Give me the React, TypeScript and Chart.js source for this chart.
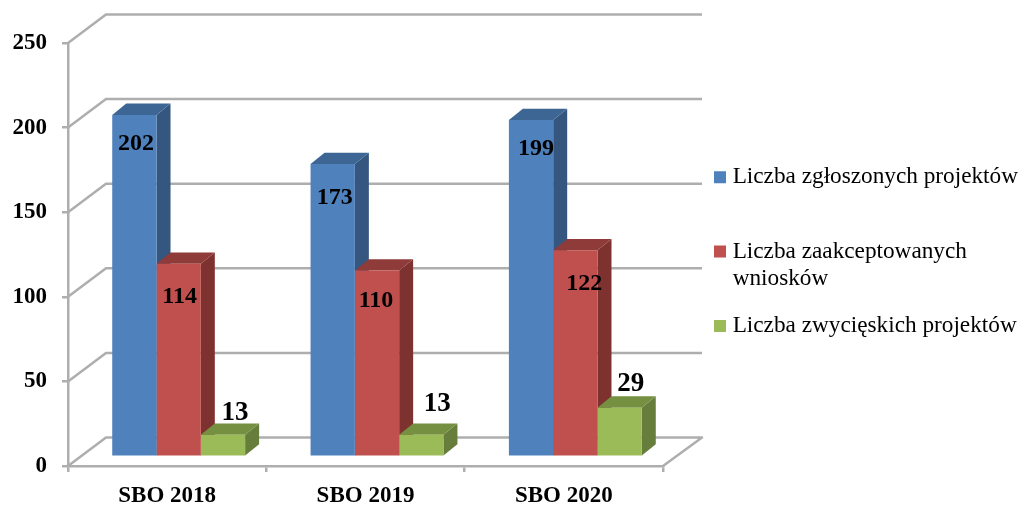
import React, { useEffect, useRef } from "react";
import { Chart, registerables } from "chart.js";

Chart.register(...registerables);

const categories = ["SBO 2018", "SBO 2019", "SBO 2020"];
const submitted = [202, 173, 199];
const accepted = [114, 110, 122];
const winners = [13, 13, 29];
const seriesNames = [
  "Liczba zgłoszonych projektów",
  "Liczba zaakceptowanych wniosków",
  "Liczba zwycięskich projektów",
];
const legendLines = [
  ["Liczba zgłoszonych projektów", ""],
  ["Liczba zaakceptowanych", "wniosków"],
  ["Liczba zwycięskich projektów", ""],
];

const FRONT = ["#4f81bd", "#c0504d", "#9bbb59"];
const SIDE = ["#34567f", "#7d3230", "#677d3b"];
const TOP = ["#3d6695", "#8f3b39", "#759040"];
const GRID = "#aeaeae";
const SERIF = "'Liberation Serif', serif";

// Projection of the pseudo-3D box
const BAR_SHIFT = { x: 11.5, y: -9.3 };
const BAR_DEPTH = { x: 14, y: -11.3 };
const WALL = { x: 38, y: -28.5 };

// Data label placement relative to the top centre of each bar's front face
const labelNudges = [
  [[1.6, 29], [2, 34], [5, 29]],
  [[1, 33], [-1, 30], [9, 34]],
  [[12, -22], [16, -31], [11, -24]],
];
const labelSizes = [24, 24, 27];

const frame3d = {
  id: "frame3d",
  beforeDatasetsDraw(chart: any) {
    const { ctx, chartArea: a, scales } = chart;
    const y = scales.y;
    ctx.save();
    ctx.strokeStyle = GRID;
    ctx.lineWidth = 2.5;
    ctx.lineJoin = "round";
    y.ticks.forEach((t: any) => {
      const py = y.getPixelForValue(t.value);
      ctx.beginPath();
      ctx.moveTo(a.left, py);
      ctx.lineTo(a.left + WALL.x, py + WALL.y);
      ctx.lineTo(a.right + WALL.x + 1, py + WALL.y);
      if (t.value === 0) ctx.lineTo(a.right, py);
      ctx.stroke();
    });
    // Bar sides and tops, series by series so later series overlap earlier ones
    chart.data.datasets.forEach((_: any, di: number) => {
      const meta = chart.getDatasetMeta(di);
      meta.data.forEach((bar: any) => {
        const p = bar.getProps(["x", "y", "base", "width"], true);
        const l = p.x - p.width / 2 + BAR_SHIFT.x;
        const r = p.x + p.width / 2 + BAR_SHIFT.x;
        const t = p.y + BAR_SHIFT.y;
        const b = p.base + BAR_SHIFT.y;
        ctx.fillStyle = SIDE[di];
        ctx.beginPath();
        ctx.moveTo(r, t);
        ctx.lineTo(r + BAR_DEPTH.x, t + BAR_DEPTH.y);
        ctx.lineTo(r + BAR_DEPTH.x, b + BAR_DEPTH.y);
        ctx.lineTo(r, b);
        ctx.closePath();
        ctx.fill();
        ctx.fillStyle = TOP[di];
        ctx.beginPath();
        ctx.moveTo(l, t);
        ctx.lineTo(l + BAR_DEPTH.x, t + BAR_DEPTH.y);
        ctx.lineTo(r + BAR_DEPTH.x, t + BAR_DEPTH.y);
        ctx.lineTo(r, t);
        ctx.closePath();
        ctx.fill();
      });
    });
    ctx.restore();
    ctx.save();
    ctx.translate(BAR_SHIFT.x, BAR_SHIFT.y);
  },
  afterDatasetsDraw(chart: any) {
    const { ctx } = chart;
    ctx.restore();
    ctx.save();
    ctx.fillStyle = "#000";
    ctx.textAlign = "center";
    ctx.textBaseline = "middle";
    chart.data.datasets.forEach((ds: any, di: number) => {
      ctx.font = `bold ${labelSizes[di]}px ${SERIF}`;
      chart.getDatasetMeta(di).data.forEach((bar: any, i: number) => {
        const [nx, ny] = labelNudges[di][i];
        ctx.fillText(String(ds.data[i]), bar.x + BAR_SHIFT.x + nx, bar.y + BAR_SHIFT.y + ny);
      });
    });
    ctx.restore();
  },
  afterLayout(chart: any) {
    const lg = chart.legend;
    const pad = lg.options.labels.padding;
    lg.left = 719 - pad;
    lg.top = 165.5 - pad;
    lg.right = 1023;
    lg.bottom = 505;
  },
};

export default function App() {
  const ref = useRef<HTMLCanvasElement>(null);
  useEffect(() => {
    const chart = new Chart(ref.current as HTMLCanvasElement, {
      type: "bar",
      data: {
        labels: categories,
        datasets: [submitted, accepted, winners].map((data, i) => ({
          label: seriesNames[i],
          data,
          backgroundColor: FRONT[i],
          borderWidth: 0,
          categoryPercentage: 0.67,
          barPercentage: 1,
          clip: false as any,
        })),
      },
      plugins: [frame3d],
      options: {
        animation: false,
        responsive: false,
        layout: { padding: { top: 43, right: 360, left: 0, bottom: 0 } },
        plugins: {
          tooltip: { enabled: false },
          legend: {
            position: "chartArea",
            align: "start",
            labels: {
              padding: 20.4,
              boxWidth: 2,
              boxHeight: 2,
              color: "#000",
              font: { family: SERIF, size: 23.25, lineHeight: 27 / 23.25 },
              generateLabels: () =>
                legendLines.map((text, i) => ({
                  text,
                  fillStyle: FRONT[i],
                  strokeStyle: FRONT[i],
                  lineWidth: 10,
                  datasetIndex: i,
                })),
            },
          },
        },
        scales: {
          x: {
            afterFit: (s: any) => {
              s.height = 39;
            },
            grid: { drawOnChartArea: false, color: GRID, lineWidth: 2.5, tickLength: 6 },
            border: { color: GRID, width: 2.5 },
            ticks: {
              color: "#000",
              padding: 10,
              maxRotation: 0,
              font: { family: SERIF, size: 23, weight: "bold" },
            },
          },
          y: {
            min: 0,
            max: 250,
            afterFit: (s: any) => {
              s.width = 68;
            },
            grid: { drawOnChartArea: false, color: GRID, lineWidth: 2.5, tickLength: 6 },
            border: { color: GRID, width: 2.5 },
            ticks: {
              stepSize: 50,
              color: "#000",
              padding: 15,
              font: { family: SERIF, size: 23, weight: "bold" },
            },
          },
        },
      },
    } as any);
    return () => chart.destroy();
  }, []);
  return (
    <canvas
      ref={ref}
      width={1023}
      height={505}
      style={{ position: "absolute", left: 0, top: 0, filter: "blur(0.7px)" }}
    />
  );
}
